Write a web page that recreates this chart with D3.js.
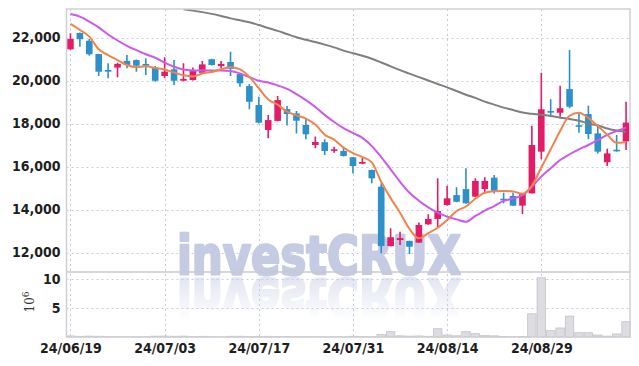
<!DOCTYPE html>
<html>
<head>
<meta charset="utf-8">
<script src="https://cdn.jsdelivr.net/npm/d3@7"></script>
<style>
  body { margin: 0; background: #fff; }
  svg { display: block; }
  .axis text { font-family: 'Liberation Sans Narrow', 'DejaVu Sans Condensed', sans-serif; font-weight: bold; font-size: 14px; fill: #1e1e1e; }
</style>
</head>
<body>
<div id="chart"></div>
<script>
const dates = [
  '2024-06-19', '2024-06-20', '2024-06-21', '2024-06-24', '2024-06-25', '2024-06-26', '2024-06-27', '2024-06-28',
  '2024-07-01', '2024-07-02', '2024-07-03', '2024-07-04', '2024-07-05', '2024-07-08', '2024-07-09', '2024-07-10',
  '2024-07-11', '2024-07-12', '2024-07-15', '2024-07-16', '2024-07-17', '2024-07-18', '2024-07-19', '2024-07-22',
  '2024-07-23', '2024-07-24', '2024-07-25', '2024-07-26', '2024-07-29', '2024-07-30', '2024-07-31', '2024-08-01',
  '2024-08-02', '2024-08-05', '2024-08-06', '2024-08-07', '2024-08-08', '2024-08-09', '2024-08-12', '2024-08-13',
  '2024-08-14', '2024-08-16', '2024-08-19', '2024-08-20', '2024-08-21', '2024-08-22', '2024-08-23', '2024-08-26',
  '2024-08-27', '2024-08-28', '2024-08-29', '2024-08-30', '2024-09-02', '2024-09-03', '2024-09-04', '2024-09-05',
  '2024-09-06', '2024-09-09', '2024-09-10', '2024-09-11'
];

const open = [
  21450, 22210, 21850, 21230, 20490, 20600, 20910, 20950, 20770, 20610,
  20210, 20520, 19990, 20020, 20360, 20990, 20670, 20860, 20300, 19740,
  18860, 17700, 18120, 18670, 18470, 17930, 17000, 17130, 16750, 16720,
  16430, 16130, 15840, 15060, 12300, 12580, 12540, 12460, 13310, 13560,
  14210, 14670, 14950, 14600, 14950, 15480, 14500, 14630, 14180, 14750,
  16690, 18580, 18500, 19600, 17920, 18440, 17540, 16200, 16780, 17170
];
const high = [
  22200, 22230, 21930, 21250, 20800, 20830, 21190, 20980, 21030, 20670,
  21080, 20950, 20800, 20610, 20910, 21010, 20910, 21340, 20320, 19840,
  19250, 18400, 19280, 18810, 18580, 18240, 17390, 17270, 16920, 16920,
  16440, 16430, 15850, 15220, 13130, 12970, 12550, 13390, 13780, 15450,
  15110, 15030, 15920, 15450, 15500, 15610, 14780, 14780, 14770, 17900,
  20360, 19130, 19760, 21420, 18470, 18830, 17930, 16830, 17470, 19010
];
const low = [
  21430, 21570, 21150, 20210, 20100, 20150, 20570, 20410, 20260, 19940,
  20100, 19790, 19970, 20000, 20340, 20700, 20570, 20210, 19710, 18660,
  18000, 17310, 18100, 17910, 17540, 17270, 16850, 16540, 16640, 16470,
  15680, 16110, 15220, 11960, 12280, 12350, 11930, 12440, 13290, 13170,
  14190, 14340, 14270, 14580, 14750, 14750, 14290, 14160, 13790, 14740,
  16340, 18400, 18320, 18710, 17570, 17270, 16610, 16020, 16690, 16770
];
const close = [
  21930, 21920, 21220, 20410, 20410, 20770, 20720, 20690, 20690, 19990,
  20410, 19990, 20070, 20440, 20750, 20720, 20770, 20540, 19870, 19010,
  18040, 18160, 19090, 18440, 18130, 17500, 17140, 16720, 16800, 16490,
  16020, 16210, 15450, 12300, 12710, 12670, 12270, 13280, 13560, 13930,
  14520, 14360, 14290, 15330, 15330, 14870, 14440, 14180, 14750, 17000,
  18660, 18520, 18710, 18780, 17850, 17510, 16690, 16610, 16720, 18040
];
const volume = [
  180000, 120000, 150000, 130000, 60000, 50000, 40000, 40000, 50000, 140000,
  160000, 130000, 150000, 60000, 120000, 50000, 40000, 120000, 130000, 110000,
  90000, 120000, 100000, 80000, 60000, 50000, 40000, 40000, 30000, 40000,
  120000, 80000, 60000, 450000, 910000, 200000, 150000, 180000, 120000, 1430000,
  340000, 200000, 910000, 570000, 250000, 200000, 80000, 60000, 80000, 4000000,
  10200000, 1090000, 1550000, 3600000, 740000, 740000, 340000, 150000, 520000, 2640000
];

// moving averages (5, 20 and the long one)
const ma5 = [
  22630, 22350, 22040, 21450, 21180, 20950, 20720, 20620, 20660, 20580,
  20510, 20370, 20240, 20190, 20330, 20400, 20520, 20620, 20520, 20170,
  19640, 19120, 18880, 18550, 18380, 18230, 17950, 17480, 17250, 16880,
  16620, 16440, 16190, 15290, 14530, 13850, 13100, 12660, 12900, 13150,
  13510, 13930, 14140, 14500, 14780, 14850, 14860, 14840, 14730, 15100,
  15950, 16800, 17650, 18360, 18500, 18260, 17880, 17480, 17100, 17140
];
const ma20 = [
  23090, 22970, 22740, 22470, 22140, 21860, 21610, 21410, 21220, 21060,
  20830, 20640, 20510, 20470, 20460, 20460, 20460, 20440, 20330, 20160,
  19990, 19910, 19770, 19610, 19370, 19090, 18770, 18400, 18070, 17790,
  17560, 17330, 16950, 16440, 15870, 15290, 14780, 14410, 14100, 13850,
  13670, 13540, 13430, 13700, 13950, 14160, 14400, 14510, 14670, 15060,
  15530, 15920, 16300, 16570, 16800, 17000, 17230, 17470, 17650, 17810
];
const ma60 = [
  null, null, null, null, null, null, null, null, null, null,
  null, null, 23310, 23250, 23180, 23100, 23000, 22890, 22800, 22710,
  22580, 22440, 22310, 22160, 22010, 21900, 21790, 21670, 21540, 21390,
  21270, 21150, 21010, 20840, 20660, 20480, 20320, 20160, 20000, 19840,
  19680, 19510, 19340, 19190, 19020, 18880, 18740, 18630, 18510, 18450,
  18410, 18350, 18270, 18210, 18130, 18000, 17910, 17770, 17670, 17610
];

const yTicks = [12000, 14000, 16000, 18000, 20000, 22000];
const volTicks = [5000000, 10000000];
const xTickIdx = [0, 10, 20, 30, 40, 50];

const width = 639, height = 366;
const plotLeft = 66.5, plotRight = 630, plotTop = 9, split = 272, plotBottom = 337;
const upColor = '#e31c68', downColor = '#2d90c8';

const svg = d3.select('#chart').append('svg')
  .attr('width', width)
  .attr('height', height);

svg.append('rect')
  .attr('width', width)
  .attr('height', height)
  .attr('fill', '#fff');

// scales
const x = d3.scalePoint()
  .domain(d3.range(dates.length))
  .range([plotLeft, plotRight])
  .padding(0.42);

const y = d3.scaleLinear()
  .domain([11093, 23326])
  .range([split, plotTop]);

const yVol = d3.scaleLinear()
  .domain([0, 11200000])
  .range([plotBottom, split]);

const defs = svg.append('defs');
defs.append('clipPath').attr('id', 'main-clip')
  .append('rect')
  .attr('x', plotLeft).attr('y', plotTop)
  .attr('width', plotRight - plotLeft).attr('height', split - plotTop);

// fade for the mirrored watermark (in the mirrored, local coords)
const fade = defs.append('linearGradient')
  .attr('id', 'fade')
  .attr('gradientUnits', 'userSpaceOnUse')
  .attr('x1', 0).attr('x2', 0)
  .attr('y1', 232).attr('y2', 276);
fade.append('stop').attr('offset', '0%').attr('stop-color', '#fff').attr('stop-opacity', 0);
fade.append('stop').attr('offset', '100%').attr('stop-color', '#fff').attr('stop-opacity', 0.5);

defs.append('mask')
  .attr('id', 'fade-mask')
  .attr('maskUnits', 'userSpaceOnUse')
  .attr('x', 0).attr('y', 0).attr('width', width).attr('height', height)
  .append('rect')
  .attr('x', 0).attr('y', 0).attr('width', width).attr('height', height)
  .attr('fill', 'url(#fade)');

// grid
const grid = svg.append('g')
  .attr('stroke', '#c9cce0')
  .attr('stroke-width', 1)
  .attr('stroke-dasharray', '2,3');

grid.selectAll('.hgrid')
  .data(yTicks)
  .enter().append('line')
  .attr('x1', plotLeft).attr('x2', plotRight)
  .attr('y1', d => Math.round(y(d)) + 0.5)
  .attr('y2', d => Math.round(y(d)) + 0.5);

grid.selectAll('.hgrid-vol')
  .data(volTicks)
  .enter().append('line')
  .attr('x1', plotLeft).attr('x2', plotRight)
  .attr('y1', d => Math.round(yVol(d)) + 0.5)
  .attr('y2', d => Math.round(yVol(d)) + 0.5);

grid.selectAll('.xgrid')
  .data(xTickIdx)
  .enter().append('line')
  .attr('x1', d => Math.round(x(d)) + 0.5)
  .attr('x2', d => Math.round(x(d)) + 0.5)
  .attr('y1', plotTop).attr('y2', plotBottom);

// watermark, mirrored copy drawn with <use>
svg.append('text')
  .attr('id', 'wm')
  .attr('x', 177)
  .attr('y', 274)
  .attr('textLength', 284)
  .attr('lengthAdjust', 'spacingAndGlyphs')
  .style('font-family', '"DejaVu Sans", sans-serif')
  .style('font-weight', 'bold')
  .style('font-size', '54px')
  .attr('fill', '#c5cbe3')
  .attr('stroke', '#c5cbe3')
  .attr('stroke-width', 2.6)
  .attr('stroke-linejoin', 'round')
  .text('investCRUX');

svg.append('g')
  .attr('transform', 'translate(0,553) scale(1,-1)')
  .append('use')
  .attr('href', '#wm')
  .attr('mask', 'url(#fade-mask)');

// volume bars
svg.append('g')
  .selectAll('rect')
  .data(volume)
  .enter().append('rect')
  .attr('x', (d, i) => x(i) - x.step() / 2 + 0.5)
  .attr('width', x.step() - 1)
  .attr('y', d => yVol(d))
  .attr('height', d => plotBottom - yVol(d))
  .attr('fill', '#dcdce1')
  .attr('stroke', '#c2c2ca')
  .attr('stroke-width', 0.8);

// candles
const candles = svg.append('g')
  .attr('clip-path', 'url(#main-clip)')
  .selectAll('g')
  .data(d3.range(dates.length))
  .enter().append('g');

candles.append('line')
  .attr('x1', i => x(i)).attr('x2', i => x(i))
  .attr('y1', i => y(high[i]))
  .attr('y2', i => y(low[i]))
  .attr('stroke', i => close[i] >= open[i] ? upColor : downColor)
  .attr('stroke-width', 1.6);

candles.append('rect')
  .attr('x', i => x(i) - 3.3)
  .attr('width', 6.6)
  .attr('y', i => y(Math.max(open[i], close[i])))
  .attr('height', i => Math.max(1.6, Math.abs(y(open[i]) - y(close[i]))))
  .attr('fill', i => close[i] >= open[i] ? upColor : downColor);

// moving average lines
const line = d3.line()
  .defined(d => d != null)
  .x((d, i) => x(i))
  .y(d => y(d))
  .curve(d3.curveMonotoneX);

const lines = svg.append('g').attr('clip-path', 'url(#main-clip)');
[[ma60, '#7f7f7f'], [ma20, '#cc58ec'], [ma5, '#f0844c']].forEach(([vals, col]) => {
  lines.append('path')
    .datum(vals)
    .attr('d', line)
    .attr('fill', 'none')
    .attr('stroke', col)
    .attr('stroke-width', 2);
});

// frame
svg.append('rect')
  .attr('x', plotLeft).attr('y', plotTop)
  .attr('width', plotRight - plotLeft).attr('height', plotBottom - plotTop)
  .attr('fill', 'none')
  .attr('stroke', '#cfd0d6')
  .attr('stroke-width', 1.5);

svg.append('line')
  .attr('x1', plotLeft).attr('x2', plotRight)
  .attr('y1', split).attr('y2', split)
  .attr('stroke', '#c8c9cf')
  .attr('stroke-width', 1.5);

// axes
const fmtDate = d3.timeFormat('%y/%m/%d');
const parse = d3.timeParse('%Y-%m-%d');

svg.append('g')
  .attr('class', 'axis')
  .attr('transform', `translate(${plotLeft},0)`)
  .call(d3.axisLeft(y).tickValues(yTicks).tickSize(0).tickPadding(6).tickFormat(d3.format(',')))
  .call(g => g.select('.domain').remove());

svg.append('g')
  .attr('class', 'axis')
  .attr('transform', `translate(${plotLeft},0)`)
  .call(d3.axisLeft(yVol).tickValues(volTicks).tickSize(0).tickPadding(6).tickFormat(d => d / 1e6))
  .call(g => g.select('.domain').remove());

svg.append('g')
  .attr('class', 'axis')
  .attr('transform', `translate(0,${plotBottom})`)
  .call(d3.axisBottom(x).tickValues(xTickIdx).tickSize(0).tickPadding(6).tickFormat(i => fmtDate(parse(dates[i]))))
  .call(g => g.select('.domain').remove());

// volume unit label
const unit = svg.append('text')
  .attr('transform', 'translate(34,302) rotate(-90)')
  .attr('text-anchor', 'middle')
  .style('font-family', '"DejaVu Serif", serif')
  .style('font-size', '12px')
  .attr('fill', '#333');
unit.append('tspan').text('10');
unit.append('tspan').attr('dy', -5).style('font-size', '9px').text('6');
</script>
</body>
</html>
